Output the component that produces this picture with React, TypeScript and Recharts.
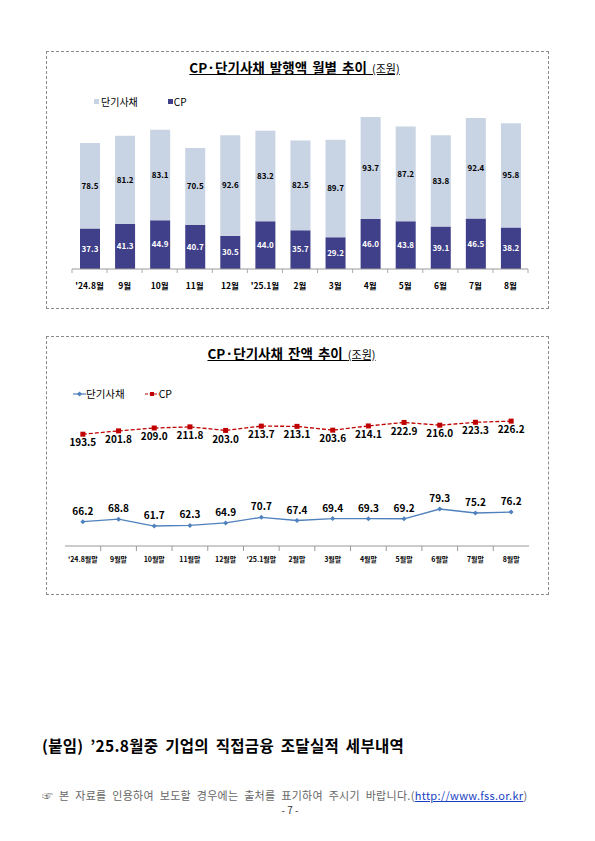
import React from "react";
import { BarChart, Bar, LineChart, Line, XAxis, YAxis, LabelList } from "recharts";

const issueMonths = ["'24.8월", "9월", "10월", "11월", "12월", "'25.1월", "2월", "3월", "4월", "5월", "6월", "7월", "8월"];
const issueCP = [37.3, 41.3, 44.9, 40.7, 30.5, 44.0, 35.7, 29.2, 46.0, 43.8, 39.1, 46.5, 38.2];
const issueSTB = [78.5, 81.2, 83.1, 70.5, 92.6, 83.2, 82.5, 89.7, 93.7, 87.2, 83.8, 92.4, 95.8];

const balMonths = ["'24.8월말", "9월말", "10월말", "11월말", "12월말", "'25.1월말", "2월말", "3월말", "4월말", "5월말", "6월말", "7월말", "8월말"];
const balSTB = [66.2, 68.8, 61.7, 62.3, 64.9, 70.7, 67.4, 69.4, 69.3, 69.2, 79.3, 75.2, 76.2];
const balCP = [193.5, 201.8, 209.0, 211.8, 203.0, 213.7, 213.1, 203.6, 214.1, 222.9, 216.0, 223.3, 226.2];

const issueData = issueMonths.map((m, i) => ({ m, cp: issueCP[i], stb: issueSTB[i] }));
const balData = balMonths.map((m, i) => ({ m, stb: balSTB[i], cp: balCP[i] }));

const FONT = "'Noto Sans CJK KR', 'Noto Sans', sans-serif";
const C_STB = "#C8D3E4";
const C_CP = "#403F8A";
const C_LINE_B = "#4F81BD";
const C_LINE_R = "#C00000";

const BW1 = 456 / 13;
const BW2 = 464 / 13;

const Tick1 = (props: any) => {
  const { x, y, payload, index } = props;
  return (
    <g>
      <line x1={x - BW1 / 2} x2={x - BW1 / 2} y1={y - 8} y2={y - 4} stroke="#aaa" strokeWidth={1} />
      {index === 12 && <line x1={x + BW1 / 2} x2={x + BW1 / 2} y1={y - 8} y2={y - 4} stroke="#aaa" strokeWidth={1} />}
      <text x={x} y={y + 12} textAnchor="middle" fontSize={8.5} fontWeight="bold" fill="#000" fontFamily={FONT}>
        {payload.value}
      </text>
    </g>
  );
};

const Tick2 = (props: any) => {
  const { x, y, payload, index } = props;
  return (
    <g>
      {index > 0 && <line x1={x - BW2 / 2} x2={x - BW2 / 2} y1={y - 8} y2={y - 3} stroke="#999" strokeWidth={1} />}
      <text x={x} y={y + 8} textAnchor="middle" fontSize={7} fontWeight="bold" fill="#000" fontFamily={FONT}>
        {payload.value}
      </text>
    </g>
  );
};

const boxStyle: React.CSSProperties = {
  position: "absolute",
  border: "1px dashed #8a8a8a",
  boxSizing: "border-box",
};

export default function App() {
  return (
    <div style={{ position: "absolute", left: 0, top: 0, width: 595, height: 841, background: "#fff", fontFamily: FONT }}>
      {/* Chart 1 */}
      <div style={{ ...boxStyle, left: 46, top: 51, width: 503, height: 258 }} />
      <div style={{ position: "absolute", left: 0, width: 595, top: 57, textAlign: "center", fontSize: 13.5, fontWeight: "bold", color: "#000", wordSpacing: 2 }}>
        <span style={{ textDecoration: "underline", marginLeft: -6 }}>
          CP·단기사채 발행액 월별 추이 <span style={{ fontSize: 11, fontWeight: "normal" }}>(조원)</span>
        </span>
      </div>
      <div style={{ position: "absolute", left: 94, top: 94, fontSize: 10, color: "#000", display: "flex", alignItems: "center" }}>
        <span style={{ display: "inline-block", width: 5, height: 5, background: C_STB, marginRight: 2 }} />
        <span>단기사채</span>
        <span style={{ display: "inline-block", width: 5, height: 5, background: C_CP, marginLeft: 30, marginRight: 1 }} />
        <span>CP</span>
      </div>
      <div style={{ position: "absolute", left: 46, top: 51 }}>
        <BarChart width={503} height={257} data={issueData} margin={{ top: 44, right: 21, left: 26, bottom: 9 }} barSize={20}>
          <XAxis dataKey="m" height={30} tickLine={false} axisLine={{ stroke: "#999" }} tick={<Tick1 />} interval={0} />
          <YAxis hide width={0} domain={[0, 160]} />
          <Bar dataKey="cp" stackId="a" fill={C_CP} isAnimationActive={false}>
            <LabelList dataKey="cp" position="center" fill="#fff" fontSize={8} fontWeight="bold" fontFamily={FONT} formatter={(v: any) => Number(v).toFixed(1)} />
          </Bar>
          <Bar dataKey="stb" stackId="a" fill={C_STB} isAnimationActive={false}>
            <LabelList dataKey="stb" position="center" fill="#000" fontSize={8} fontWeight="bold" fontFamily={FONT} formatter={(v: any) => Number(v).toFixed(1)} />
          </Bar>
        </BarChart>
      </div>

      {/* Chart 2 */}
      <div style={{ ...boxStyle, left: 46, top: 336, width: 503, height: 259 }} />
      <div style={{ position: "absolute", left: 0, width: 595, top: 343, textAlign: "center", fontSize: 13.5, fontWeight: "bold", color: "#000", wordSpacing: 2 }}>
        <span style={{ textDecoration: "underline", marginLeft: -12 }}>
          CP·단기사채 잔액 추이 <span style={{ fontSize: 11, fontWeight: "normal" }}>(조원)</span>
        </span>
      </div>
      <div style={{ position: "absolute", left: 73, top: 386, fontSize: 10.5, color: "#000", display: "flex", alignItems: "center" }}>
        <svg width={13} height={8}>
          <line x1={0} x2={13} y1={4} y2={4} stroke={C_LINE_B} strokeWidth={1.2} />
          <path d="M6.5 1.5 L9 4 L6.5 6.5 L4 4 Z" fill={C_LINE_B} />
        </svg>
        <span>단기사채</span>
        <svg width={14} height={8} style={{ marginLeft: 20 }}>
          <line x1={0} x2={14} y1={4} y2={4} stroke={C_LINE_R} strokeWidth={1.2} strokeDasharray="3 1.5" />
          <rect x={5} y={2} width={4} height={4} fill={C_LINE_R} />
        </svg>
        <span>CP</span>
      </div>
      <div style={{ position: "absolute", left: 46, top: 336 }}>
        <LineChart width={503} height={259} data={balData} margin={{ top: 70, right: 20, left: 19, bottom: 19 }}>
          <XAxis
            dataKey="m"
            height={30}
            tickLine={false}
            axisLine={{ stroke: "#999" }}
            tick={<Tick2 />}
            interval={0}
            padding={{ left: BW2 / 2, right: BW2 / 2 }}
          />
          <YAxis yAxisId="l" hide width={0} domain={[41, 186]} />
          <YAxis yAxisId="r" hide width={0} orientation="right" domain={[-86, 264]} />
          <Line
            yAxisId="l"
            dataKey="stb"
            stroke={C_LINE_B}
            strokeWidth={1.3}
            isAnimationActive={false}
            dot={(p: any) => (
              <path key={p.index} d={`M${p.cx} ${p.cy - 2.5} L${p.cx + 2.5} ${p.cy} L${p.cx} ${p.cy + 2.5} L${p.cx - 2.5} ${p.cy} Z`} fill={C_LINE_B} />
            )}
          >
            <LabelList dataKey="stb" position="top" offset={7} fill="#000" fontSize={10} fontWeight="bold" fontFamily={FONT} formatter={(v: any) => Number(v).toFixed(1)} />
          </Line>
          <Line
            yAxisId="r"
            dataKey="cp"
            stroke={C_LINE_R}
            strokeWidth={1.3}
            strokeDasharray="4 2"
            isAnimationActive={false}
            dot={(p: any) => <rect key={p.index} x={p.cx - 2.5} y={p.cy - 2.5} width={5} height={5} fill={C_LINE_R} />}
          >
            <LabelList dataKey="cp" position="bottom" offset={5} fill="#000" fontSize={10} fontWeight="bold" fontFamily={FONT} formatter={(v: any) => Number(v).toFixed(1)} />
          </Line>
        </LineChart>
      </div>

      {/* Bottom text */}
      <div style={{ position: "absolute", left: 42, top: 734, fontSize: 15.5, fontWeight: "bold", color: "#000", whiteSpace: "nowrap", letterSpacing: 0.3, wordSpacing: 3 }}>
        (붙임) ’25.8월중 기업의 직접금융 조달실적 세부내역
      </div>
      <div style={{ position: "absolute", left: 42, top: 787, fontSize: 11, color: "#666", whiteSpace: "nowrap", letterSpacing: 0.3, wordSpacing: 3 }}>
        ☞ 본 자료를 인용하여 보도할 경우에는 출처를 표기하여 주시기 바랍니다.(
        <span style={{ color: "#1a3fc4", textDecoration: "underline" }}>http://www.fss.or.kr</span>)
      </div>
      <div style={{ position: "absolute", left: 0, width: 580, top: 802, textAlign: "center", fontSize: 10, color: "#333" }}>
        - 7 -
      </div>
    </div>
  );
}
